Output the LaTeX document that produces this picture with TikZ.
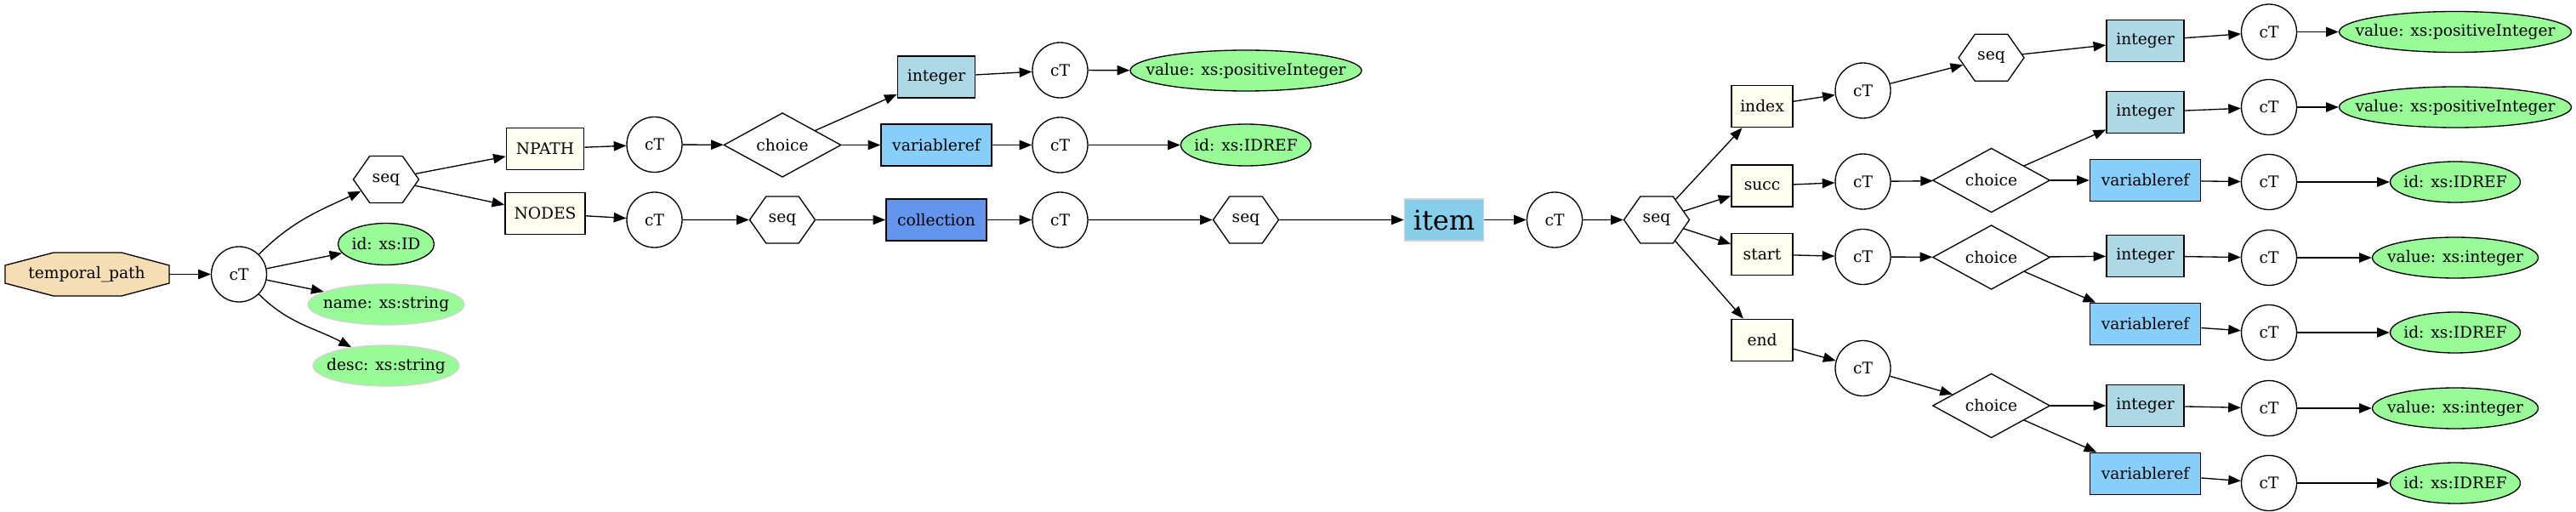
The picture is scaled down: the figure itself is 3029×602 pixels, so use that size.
\documentclass[tikz,border=0pt]{standalone}
\usepackage{fontspec}
\setmainfont{DejaVu Serif}
\usetikzlibrary{shapes.geometric,shapes.symbols,arrows.meta}
\definecolor{wheat}{HTML}{F5DEB3}
\definecolor{ivorybox}{HTML}{FFFFF0}
\definecolor{lblue}{HTML}{ADD8E6}
\definecolor{lsky}{HTML}{87CEFA}
\definecolor{cflower}{HTML}{6495ED}
\definecolor{skyb}{HTML}{87CEEB}
\definecolor{pgreen}{HTML}{98FB98}
\definecolor{lgray}{HTML}{D3D3D3}
\newcommand\zw[1]{\makebox[0pt]{#1}}
\tikzset{
  base/.style={font=\fontsize{14}{16}\selectfont, inner sep=0pt, line width=1pt, draw=black},
  ct/.style={base, circle, minimum size=48.75pt, fill=white},
  hexa/.style={base, signal, signal to=west and east, signal pointer angle=110, minimum width=57.75pt, minimum height=41.25pt, fill=white},
  dia/.style={base, diamond, minimum width=103.5pt, minimum height=50.25pt, fill=white},
  box/.style={base, rectangle, minimum height=36.75pt, line width=1.2pt},
  elem/.style={box, fill=ivorybox, minimum width=54pt},
  intbox/.style={box, fill=lblue, minimum width=68.25pt},
  vrbox/.style={box, fill=lsky, minimum width=97.5pt},
  attr/.style={base, ellipse, fill=pgreen, minimum height=36pt},
  attrn/.style={attr, draw=lgray},
  arr/.style={-{Triangle[length=11pt,width=8.5pt]}, line width=1pt},
}
\begin{document}
\begin{tikzpicture}[x=0.75pt,y=-0.75pt]
\useasboundingbox (0,0) rectangle (3029,602);
% octagon
\draw[line width=1pt, fill=wheat] (6,312) -- (6,333) -- (63,348) -- (143,348) -- (199,333) -- (199,312) -- (143,297) -- (63,297) -- cycle;
\node[base, draw=none, minimum width=144.75pt, minimum height=38.25pt] (tp) at (102,322.5) {temporal\_path};
\node[ct] (ct1) at (281,322.5) {cT};
\node[hexa] (seq1) at (454,211) {seq};
\node[attr, minimum width=84.75pt, minimum height=36.75pt] (id) at (454,287) {\zw{id: xs:ID}};
\node[attrn, minimum width=138pt] (name) at (454,358) {\zw{name: xs:string}};
\node[attrn, minimum width=129pt] (desc) at (454,430) {\zw{desc: xs:string}};
\node[elem, minimum width=68.25pt] (npath) at (641,175) {NPATH};
\node[elem, minimum width=70.5pt] (nodes) at (641,251) {NODES};
\node[ct] (ctA) at (769.5,170) {cT};
\node[ct] (ctB) at (769.5,258.5) {cT};
\node[dia] (ch1) at (920,170.5) {choice};
\node[hexa] (seq2) at (920,258.5) {seq};
\node[intbox] (int1) at (1101,90.5) {integer};
\node[vrbox] (vr1) at (1101,170.5) {variableref};
\node[box, fill=cflower, minimum width=88.5pt] (coll) at (1101,258.5) {collection};
\node[ct] (ctC) at (1246.5,82.5) {cT};
\node[ct] (ctD) at (1246.5,170.5) {cT};
\node[ct] (ctE) at (1246.5,258.5) {cT};
\node[attr, minimum width=204pt] (val1) at (1465,83) {\zw{value: xs:positiveInteger}};
\node[attr, minimum width=114.75pt, minimum height=36.75pt] (idr1) at (1465,170.5) {\zw{id: xs:IDREF}};
\node[hexa] (seq3) at (1465,258.5) {seq};
\node[box, fill=skyb, draw=lgray, minimum width=69.75pt, font=\fontsize{24}{28}\selectfont] (item) at (1698,258.5) {item};
\node[ct] (ctF) at (1828,258.5) {cT};
\node[hexa] (seq4) at (1948,258.5) {seq};
\node[elem] (index) at (2072,125) {index};
\node[elem] (succ) at (2072,218.5) {succ};
\node[elem] (start) at (2072,299) {start};
\node[elem] (end) at (2072,400) {end};
\node[ct] (ctG) at (2190.5,106.5) {cT};
\node[ct] (ctH) at (2190.5,213.5) {cT};
\node[ct] (ctI) at (2190.5,302) {cT};
\node[ct] (ctJ) at (2190.5,433) {cT};
\node[hexa] (seq5) at (2341.5,67.8) {seq};
\node[dia] (ch2) at (2341.5,212) {choice};
\node[dia] (ch3) at (2341.5,302.5) {choice};
\node[dia] (ch4) at (2341.5,477) {choice};
\node[intbox] (int2) at (2522.5,48) {integer};
\node[intbox] (int3) at (2522.5,132) {integer};
\node[vrbox] (vr2) at (2522.5,212) {variableref};
\node[intbox] (int4) at (2522.5,301) {integer};
\node[vrbox] (vr3) at (2522.5,381) {variableref};
\node[intbox] (int5) at (2522.5,477) {integer};
\node[vrbox] (vr4) at (2522.5,557) {variableref};
\node[ct] (ctK) at (2668,37.5) {cT};
\node[ct] (ctL) at (2668,126) {cT};
\node[ct] (ctM) at (2668,214) {cT};
\node[ct] (ctN) at (2668,303) {cT};
\node[ct] (ctO) at (2668,391) {cT};
\node[ct] (ctP) at (2668,480) {cT};
\node[ct] (ctQ) at (2668,568) {cT};
\node[attr, minimum width=204.75pt] (valK) at (2887,37.5) {\zw{value: xs:positiveInteger}};
\node[attr, minimum width=204.75pt] (valL) at (2887,126) {\zw{value: xs:positiveInteger}};
\node[attr, minimum width=114.75pt] (idrM) at (2887,214) {\zw{id: xs:IDREF}};
\node[attr, minimum width=146.25pt] (valN) at (2887,303) {\zw{value: xs:integer}};
\node[attr, minimum width=114.75pt] (idrO) at (2887,391) {\zw{id: xs:IDREF}};
\node[attr, minimum width=146.25pt] (valP) at (2887,480) {\zw{value: xs:integer}};
\node[attr, minimum width=114.75pt] (idrQ) at (2887,568) {\zw{id: xs:IDREF}};
% edges
\draw[arr] (tp) -- (ct1);
\draw[arr] (ct1) to[out=45, in=205] (seq1);
\draw[arr] (ct1) -- (id);
\draw[arr] (ct1) -- (name);
\draw[arr] (ct1) to[out=-45, in=152] (desc);
\draw[arr] (seq1) -- (npath);
\draw[arr] (seq1) -- (nodes);
\draw[arr] (npath) -- (ctA);
\draw[arr] (nodes) -- (ctB);
\draw[arr] (ctA) -- (ch1);
\draw[arr] (ctB) -- (seq2);
\draw[arr] (ch1) -- (int1);
\draw[arr] (ch1) -- (vr1);
\draw[arr] (seq2) -- (coll);
\draw[arr] (int1) -- (ctC);
\draw[arr] (vr1) -- (ctD);
\draw[arr] (coll) -- (ctE);
\draw[arr] (ctC) -- (val1);
\draw[arr] (ctD) -- (idr1);
\draw[arr] (ctE) -- (seq3);
\draw[arr] (seq3) -- (item);
\draw[arr] (item) -- (ctF);
\draw[arr] (ctF) -- (seq4);
\draw[arr] (seq4) -- (index);
\draw[arr] (seq4) -- (succ);
\draw[arr] (seq4) -- (start);
\draw[arr] (seq4) -- (end);
\draw[arr] (index) -- (ctG);
\draw[arr] (succ) -- (ctH);
\draw[arr] (start) -- (ctI);
\draw[arr] (end) -- (ctJ);
\draw[arr] (ctG) -- (seq5);
\draw[arr] (ctH) -- (ch2);
\draw[arr] (ctI) -- (ch3);
\draw[arr] (ctJ) -- (ch4);
\draw[arr] (seq5) -- (int2);
\draw[arr] (ch2) -- (int3);
\draw[arr] (ch2) -- (vr2);
\draw[arr] (ch3) -- (int4);
\draw[arr] (ch3) -- (vr3);
\draw[arr] (ch4) -- (int5);
\draw[arr] (ch4) -- (vr4);
\draw[arr] (int2) -- (ctK);
\draw[arr] (int3) -- (ctL);
\draw[arr] (vr2) -- (ctM);
\draw[arr] (int4) -- (ctN);
\draw[arr] (vr3) -- (ctO);
\draw[arr] (int5) -- (ctP);
\draw[arr] (vr4) -- (ctQ);
\draw[arr] (ctK) -- (valK);
\draw[arr] (ctL) -- (valL);
\draw[arr] (ctM) -- (idrM);
\draw[arr] (ctN) -- (valN);
\draw[arr] (ctO) -- (idrO);
\draw[arr] (ctP) -- (valP);
\draw[arr] (ctQ) -- (idrQ);
\end{tikzpicture}
\end{document}
